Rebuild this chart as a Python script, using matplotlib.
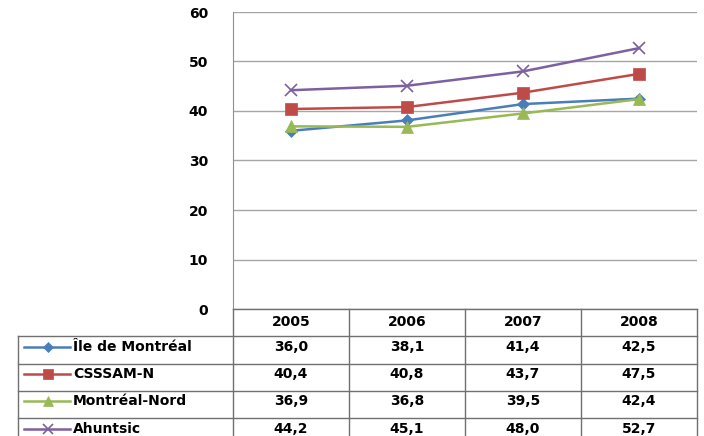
import matplotlib.pyplot as plt
from matplotlib.lines import Line2D

# Data
years = ["2005", "2006", "2007", "2008"]
series_names = ["Île de Montréal", "CSSSAM-N", "Montréal-Nord", "Ahuntsic"]
ile_montreal = [36.0, 38.1, 41.4, 42.5]
csssam_n = [40.4, 40.8, 43.7, 47.5]
montreal_nord = [36.9, 36.8, 39.5, 42.4]
ahuntsic = [44.2, 45.1, 48.0, 52.7]
yticks = [0, 10, 20, 30, 40, 50, 60]

values = [ile_montreal, csssam_n, montreal_nord, ahuntsic]
colors = ["#4A7EBB", "#BE4B48", "#98B954", "#7D60A0"]
markers = ["D", "s", "^", "x"]
msizes = [6, 8.5, 8, 9]

W, H = 704, 436
fig = plt.figure(figsize=(W / 100, H / 100), dpi=100)
plt.rcParams['font.family'] = ['DejaVu Sans']

# plot area in pixel coords (from top)
x0, x1 = 233, 697
ytop, ybot = 12, 309
ax = fig.add_axes([x0 / W, 1 - ybot / H, (x1 - x0) / W, (ybot - ytop) / H])
ax.set_xlim(-0.5, len(years) - 0.5)
ax.set_ylim(0, 60)
ax.set_yticks(yticks)
ax.set_yticklabels([str(v) for v in yticks], fontsize=10, fontweight="bold")
ax.tick_params(axis="y", length=0, pad=18)
ax.set_xticks([])
ax.grid(axis="y", color="#A6A6A6", linewidth=1)
ax.set_axisbelow(True)
for s in ["top", "right", "bottom"]:
    ax.spines[s].set_visible(False)
ax.spines["left"].set_color("#909090")

xs = range(len(years))
for vals, c, m, ms in zip(values, colors, markers, msizes):
    ax.plot(xs, vals, color=c, marker=m, markersize=ms, linewidth=1.8,
            markeredgewidth=1.2 if m == "x" else 0.5, markeredgecolor=c)

# data table drawn in pixel coordinates under the plot
tab = fig.add_axes([0, 0, 1, 1])
tab.set_xlim(0, W)
tab.set_ylim(H, 0)
tab.axis("off")

line_c = "#707070"
row_h = 27.3
col_w = (x1 - x0) / len(years)
left = 18
n_rows = len(series_names)
bottom = ybot + row_h * (n_rows + 1)
text_off = 10.5

# header row
tab.add_line(Line2D([x0, x1], [ybot, ybot], color=line_c, lw=1))
for i, yr in enumerate(years):
    cx = x0 + col_w * (i + 0.5)
    tab.text(cx, ybot + 13, yr, ha="center", va="center",
             fontsize=10, fontweight="bold")
# vertical lines
tab.add_line(Line2D([x0, x0], [ybot, bottom], color=line_c, lw=1))
for i in range(1, len(years) + 1):
    xx = x0 + col_w * i
    tab.add_line(Line2D([xx, xx], [ybot, bottom], color=line_c, lw=1))
tab.add_line(Line2D([left, left], [ybot + row_h, bottom], color=line_c, lw=1))

for r, (name, vals, c, m, ms) in enumerate(zip(series_names, values, colors, markers, msizes)):
    ytop_r = ybot + row_h * (r + 1)
    cy = ytop_r + text_off
    tab.add_line(Line2D([left, x1], [ytop_r, ytop_r], color=line_c, lw=1))
    tab.add_line(Line2D([24, 70], [cy, cy], color=c, lw=1.8))
    tab.plot([48], [cy], marker=m, color=c, markersize=ms * 0.85,
             markeredgewidth=1.2 if m == "x" else 0.5, markeredgecolor=c)
    tab.text(73, cy, name, ha="left", va="center", fontsize=10, fontweight="bold")
    for i, v in enumerate(vals):
        cx = x0 + col_w * (i + 0.5)
        tab.text(cx, cy, f"{v:.1f}".replace(".", ","), ha="center", va="center",
                 fontsize=10, fontweight="bold")

fig.savefig("out.png", dpi=100)
